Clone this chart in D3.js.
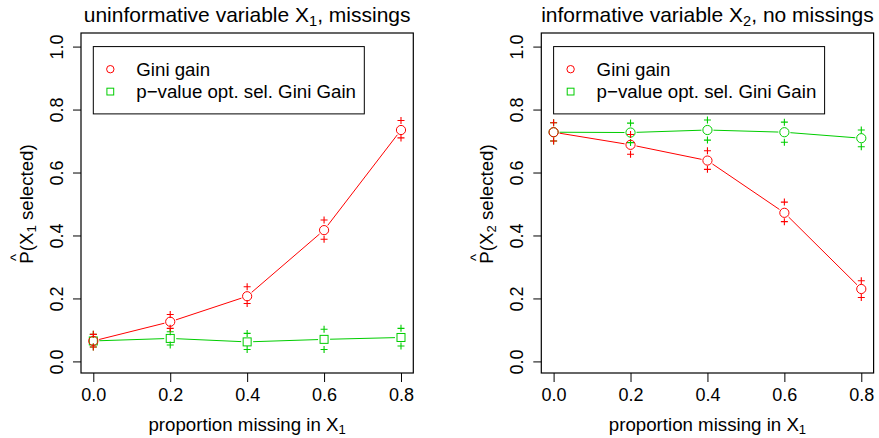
<!DOCTYPE html>
<html>
<head>
<meta charset="utf-8">
<script src="https://cdn.jsdelivr.net/npm/d3@7"></script>
<style>
  body { margin: 0; background: #fff; }
  svg { display: block; font-family: "Liberation Sans", Arial, Helvetica, sans-serif; }
</style>
</head>
<body>
<svg id="chart" width="879" height="438"></svg>
<script>
// DATA
const props = [0, 0.2, 0.4, 0.6, 0.8];
const yTicks = [0, 0.2, 0.4, 0.6, 0.8, 1.0];
const legendLabels = ['Gini gain', 'p\u2212value opt. sel. Gini Gain'];

// left panel: uninformative X1 with missings
const giniX1   = [0.065, 0.126, 0.207, 0.417, 0.735];
const giniX1Lo = [0.046, 0.105, 0.184, 0.388, 0.710];
const giniX1Hi = [0.086, 0.149, 0.237, 0.449, 0.765];
const pvalX1   = [0.065, 0.073, 0.062, 0.070, 0.076];
const pvalX1Lo = [0.046, 0.052, 0.038, 0.038, 0.049];
const pvalX1Hi = [0.086, 0.094, 0.089, 0.102, 0.105];

// right panel: informative X2, no missings
const giniX2   = [0.728, 0.688, 0.638, 0.472, 0.230];
const giniX2Lo = [0.700, 0.658, 0.610, 0.444, 0.203];
const giniX2Hi = [0.758, 0.721, 0.669, 0.506, 0.256];
const pvalX2   = [0.728, 0.727, 0.735, 0.728, 0.709];
const pvalX2Lo = [0.700, 0.695, 0.703, 0.696, 0.682];
const pvalX2Hi = [0.758, 0.757, 0.767, 0.760, 0.735];

const RED = '#ff0000';
const GREEN = '#00cd00';
const FS = 18.7;      // axis / legend text
const FS_TICK = 18;   // tick labels
const FS_MAIN = 21;   // titles

const panels = [
  {
    left: 81, title: ['uninformative variable X', '1', ', missings'], sub: '1',
    series: [
      { v: pvalX1, lo: pvalX1Lo, hi: pvalX1Hi, color: GREEN, shape: 'square' },
      { v: giniX1, lo: giniX1Lo, hi: giniX1Hi, color: RED, shape: 'circle' }
    ]
  },
  {
    left: 541.3, title: ['informative variable X', '2', ', no missings'], sub: '2',
    series: [
      { v: pvalX2, lo: pvalX2Lo, hi: pvalX2Hi, color: GREEN, shape: 'circle' },
      { v: giniX2, lo: giniX2Lo, hi: giniX2Hi, color: RED, shape: 'circle' }
    ]
  }
];

const svg = d3.select('#chart');
const boxW = 332.3;
const y = d3.scaleLinear().domain([-0.04, 1.04]).range([374, 34]);

function drawSymbol(g, shape, cx, cy, size, color) {
  if (shape === 'circle') {
    g.append('circle').attr('cx', cx).attr('cy', cy).attr('r', size)
      .attr('fill', 'none').attr('stroke', color).attr('stroke-width', 1);
  } else {
    g.append('rect').attr('x', cx - size).attr('y', cy - size)
      .attr('width', 2 * size).attr('height', 2 * size)
      .attr('fill', 'none').attr('stroke', color).attr('stroke-width', 1);
  }
}

function drawPlus(g, cx, cy, color) {
  const h = 3.5;
  g.append('path')
    .attr('d', `M${cx - h},${cy}H${cx + h}M${cx},${cy - h}V${cy + h}`)
    .attr('stroke', color).attr('stroke-width', 1.1).attr('fill', 'none');
}

panels.forEach(p => {
  const x = d3.scaleLinear().domain([-0.032, 0.832]).range([p.left, p.left + boxW]);
  const g = svg.append('g');
  const cx = p.left + boxW / 2;

  // title
  const t = g.append('text').attr('x', cx).attr('y', 22)
    .attr('text-anchor', 'middle').attr('font-size', FS_MAIN);
  t.append('tspan').text(p.title[0]);
  t.append('tspan').attr('font-size', FS_MAIN * 0.7).attr('dy', 3.5).text(p.title[1]);
  t.append('tspan').attr('dy', -3.5).text(p.title[2]);

  // y axis
  const ya = g.append('g').attr('transform', `translate(${p.left},0)`)
    .call(d3.axisLeft(y).tickValues(yTicks).tickSize(8).tickFormat(d3.format('.1f')));
  ya.select('.domain').remove();
  ya.selectAll('line').attr('stroke', '#000');
  ya.selectAll('text')
    .attr('x', 0).attr('dy', 0)
    .attr('text-anchor', 'middle')
    .attr('transform', 'translate(-18,0) rotate(-90)')
    .attr('font-size', FS_TICK).attr('font-family', null).attr('fill', '#000');

  // x axis
  const xa = g.append('g').attr('transform', `translate(0,${y.range()[0] - 1})`)
    .call(d3.axisBottom(x).tickValues(props).tickSize(9).tickFormat(d3.format('.1f')));
  xa.select('.domain').remove();
  xa.selectAll('line').attr('stroke', '#000');
  xa.selectAll('text').attr('y', 28).attr('dy', 0)
    .attr('font-size', FS_TICK).attr('font-family', null).attr('fill', '#000');

  // plot box
  g.append('rect').attr('x', p.left).attr('y', y.range()[1] - 1)
    .attr('width', boxW).attr('height', y.range()[0] - y.range()[1])
    .attr('fill', 'none').attr('stroke', '#000').attr('stroke-width', 1.2);

  // x label
  const xl = g.append('text').attr('x', cx).attr('y', 431)
    .attr('text-anchor', 'middle').attr('font-size', FS);
  xl.append('tspan').text('proportion missing in X');
  xl.append('tspan').attr('font-size', FS * 0.7).attr('dy', 3).text('1');

  // y label, rotated
  const yg = g.append('g').attr('transform', `translate(${p.left - 48},${(y.range()[0] + y.range()[1]) / 2}) rotate(-90)`);
  const yl = yg.append('text').attr('text-anchor', 'middle').attr('font-size', FS);
  yl.append('tspan').text('P(X');
  yl.append('tspan').attr('font-size', FS * 0.7).attr('dy', 3).text(p.sub);
  yl.append('tspan').attr('dy', -3).text(' selected)');
  const full = yl.node().getComputedTextLength();
  const pw = yl.node().getSubStringLength(0, 1);
  yg.append('text').attr('x', -full / 2 + pw / 2).attr('y', -12.5)
    .attr('text-anchor', 'middle').attr('font-size', 15).text('^');

  // series: type "b" lines with gaps, points and interval pluses
  const gap = 6;
  p.series.forEach(s => {
    const pts = props.map((d, i) => [x(d), y(s.v[i])]);
    for (let i = 0; i < pts.length - 1; i++) {
      const [x0, y0] = pts[i], [x1, y1] = pts[i + 1];
      const len = Math.hypot(x1 - x0, y1 - y0);
      if (len <= 2 * gap) continue;
      const ux = (x1 - x0) / len, uy = (y1 - y0) / len;
      g.append('line')
        .attr('x1', x0 + ux * gap).attr('y1', y0 + uy * gap)
        .attr('x2', x1 - ux * gap).attr('y2', y1 - uy * gap)
        .attr('stroke', s.color).attr('stroke-width', 1);
    }
    pts.forEach(([px, py], i) => {
      drawSymbol(g, s.shape, px, py, s.shape === 'circle' ? 4.6 : 4, s.color);
      drawPlus(g, px, y(s.lo[i]), s.color);
      drawPlus(g, px, y(s.hi[i]), s.color);
    });
  });

  // legend
  const lx = x(0), ly = y(1);
  g.append('rect').attr('x', lx).attr('y', ly).attr('width', 271).attr('height', 67.3)
    .attr('fill', '#fff').attr('stroke', '#000').attr('stroke-width', 1);
  const legend = [
    { label: legendLabels[0], color: RED, shape: 'circle' },
    { label: legendLabels[1], color: GREEN, shape: 'square' }
  ];
  legend.forEach((d, i) => {
    const ry = ly + 22.6 + i * 22.4;
    drawSymbol(g, d.shape, lx + 17, ry, d.shape === 'circle' ? 3.7 : 3.4, d.color);
    g.append('text').attr('x', lx + 43).attr('y', ry + 6.6)
      .attr('font-size', FS).text(d.label);
  });
});
</script>
</body>
</html>
